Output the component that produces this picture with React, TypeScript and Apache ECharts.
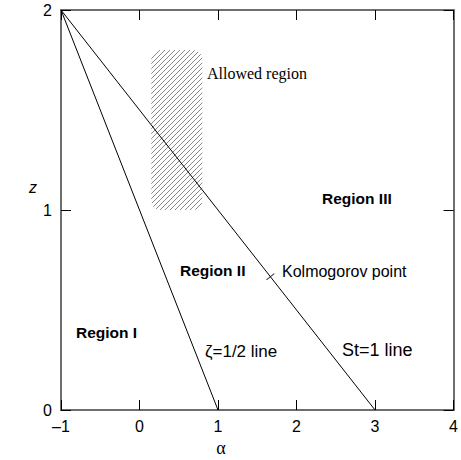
import React, { useEffect, useRef } from "react";
import * as echarts from "echarts";

const xTicks = [-1, 0, 1, 2, 3, 4];
const yTicks = [0, 1, 2];
const zetaLineAlpha = [-1, 1];
const zetaLineZ = [2, 0];
const stLineAlpha = [-1, 3];
const stLineZ = [2, 0];
const kolmogorovPoint = [5 / 3, 2 / 3];
const allowedAlpha = [0.15, 0.8];
const allowedZ = [1.0, 1.8];

function makeHatch() {
  const c = document.createElement("canvas");
  const s = 5;
  c.width = s;
  c.height = s;
  const ctx = c.getContext("2d");
  if (ctx) {
    ctx.strokeStyle = "#555";
    ctx.lineWidth = 0.7;
    ctx.beginPath();
    ctx.moveTo(-1, s + 1);
    ctx.lineTo(s + 1, -1);
    ctx.moveTo(-1, 1);
    ctx.lineTo(1, -1);
    ctx.moveTo(s - 1, s + 1);
    ctx.lineTo(s + 1, s - 1);
    ctx.stroke();
  }
  return c;
}

export default function App() {
  const ref = useRef<HTMLDivElement>(null);
  useEffect(() => {
    if (!ref.current) return;
    const chart = echarts.init(ref.current, null, { renderer: "svg" });
    const hatch = makeHatch();
    const axisLine = { show: true, onZero: false, lineStyle: { color: "#6e6e6e", width: 2 } };
    const tick = { show: true, inside: true, length: 10, lineStyle: { color: "#000", width: 1 } };
    const labelFont = { fontSize: 16, color: "#000", fontFamily: "Liberation Sans" };
    chart.setOption({
      animation: false,
      grid: { left: 61, top: 10, width: 400, height: 400, containLabel: false },
      xAxis: [
        {
          type: "value", min: xTicks[0], max: xTicks[xTicks.length - 1], interval: 1,
          position: "bottom", axisLine, axisTick: tick, splitLine: { show: false },
          axisLabel: { ...labelFont, margin: 8, formatter: (v: number) => String(v).replace("-", "\u2013") },
        },
        {
          type: "value", min: xTicks[0], max: xTicks[xTicks.length - 1], interval: 1,
          position: "top", axisLine, axisTick: tick, splitLine: { show: false },
          axisLabel: { show: false },
        },
      ],
      yAxis: [
        {
          type: "value", min: yTicks[0], max: yTicks[yTicks.length - 1], interval: 1,
          position: "left", axisLine, axisTick: tick, splitLine: { show: false },
          axisLabel: { ...labelFont, margin: 9 },
        },
        {
          type: "value", min: yTicks[0], max: yTicks[yTicks.length - 1], interval: 1,
          position: "right", axisLine, axisTick: tick, splitLine: { show: false },
          axisLabel: { show: false },
        },
      ],
      series: [
        {
          type: "custom",
          coordinateSystem: "cartesian2d",
          data: [[allowedAlpha[0], allowedZ[1], allowedAlpha[1], allowedZ[0]]],
          renderItem: (params: any, api: any) => {
            const p1 = api.coord([api.value(0), api.value(1)]);
            const p2 = api.coord([api.value(2), api.value(3)]);
            return {
              type: "rect",
              shape: { x: p1[0], y: p1[1], width: p2[0] - p1[0], height: p2[1] - p1[1], r: 9 },
              style: { fill: { image: hatch, repeat: "repeat" }, stroke: null },
            };
          },
          z: 1,
        },
        {
          type: "line",
          data: zetaLineAlpha.map((a, i) => [a, zetaLineZ[i]]),
          showSymbol: false,
          lineStyle: { color: "#000", width: 1 },
          z: 3,
        },
        {
          type: "line",
          data: stLineAlpha.map((a, i) => [a, stLineZ[i]]),
          showSymbol: false,
          lineStyle: { color: "#000", width: 1 },
          z: 3,
        },
        {
          type: "scatter",
          data: [kolmogorovPoint],
          symbol: "rect",
          symbolSize: [1, 10],
          symbolRotate: -51.3,
          itemStyle: { color: "#000" },
          z: 4,
        },
      ],
      graphic: [
        { type: "text", x: 207, y: 73, style: { text: "Allowed region", font: "16px 'Liberation Serif'", fill: "#000", verticalAlign: "middle" } },
        { type: "text", x: 322, y: 198, style: { text: "Region III", font: "bold 15.5px 'Liberation Sans'", fill: "#000", verticalAlign: "middle" } },
        { type: "text", x: 180, y: 270, style: { text: "Region II", font: "bold 15.5px 'Liberation Sans'", fill: "#000", verticalAlign: "middle" } },
        { type: "text", x: 282, y: 271, style: { text: "Kolmogorov point", font: "16px 'Liberation Sans'", fill: "#000", verticalAlign: "middle" } },
        { type: "text", x: 76, y: 332, style: { text: "Region I", font: "bold 15.5px 'Liberation Sans'", fill: "#000", verticalAlign: "middle" } },
        { type: "text", x: 205, y: 351, style: { text: "\u03b6=1/2 line", font: "17px 'Liberation Sans'", fill: "#000", verticalAlign: "middle" } },
        { type: "text", x: 342, y: 350, style: { text: "St=1 line", font: "18px 'Liberation Sans'", fill: "#000", verticalAlign: "middle" } },
        { type: "text", x: 221, y: 448, style: { text: "\u03b1", font: "18px 'Liberation Serif'", fill: "#000", align: "center", verticalAlign: "middle" } },
        { type: "text", x: 33, y: 187, style: { text: "z", font: "italic 16px 'Liberation Sans'", fill: "#000", align: "center", verticalAlign: "middle" } },
      ],
    });
    return () => chart.dispose();
  }, []);
  return <div ref={ref} style={{ position: "absolute", left: 0, top: 0, width: 461, height: 460 }} />;
}
